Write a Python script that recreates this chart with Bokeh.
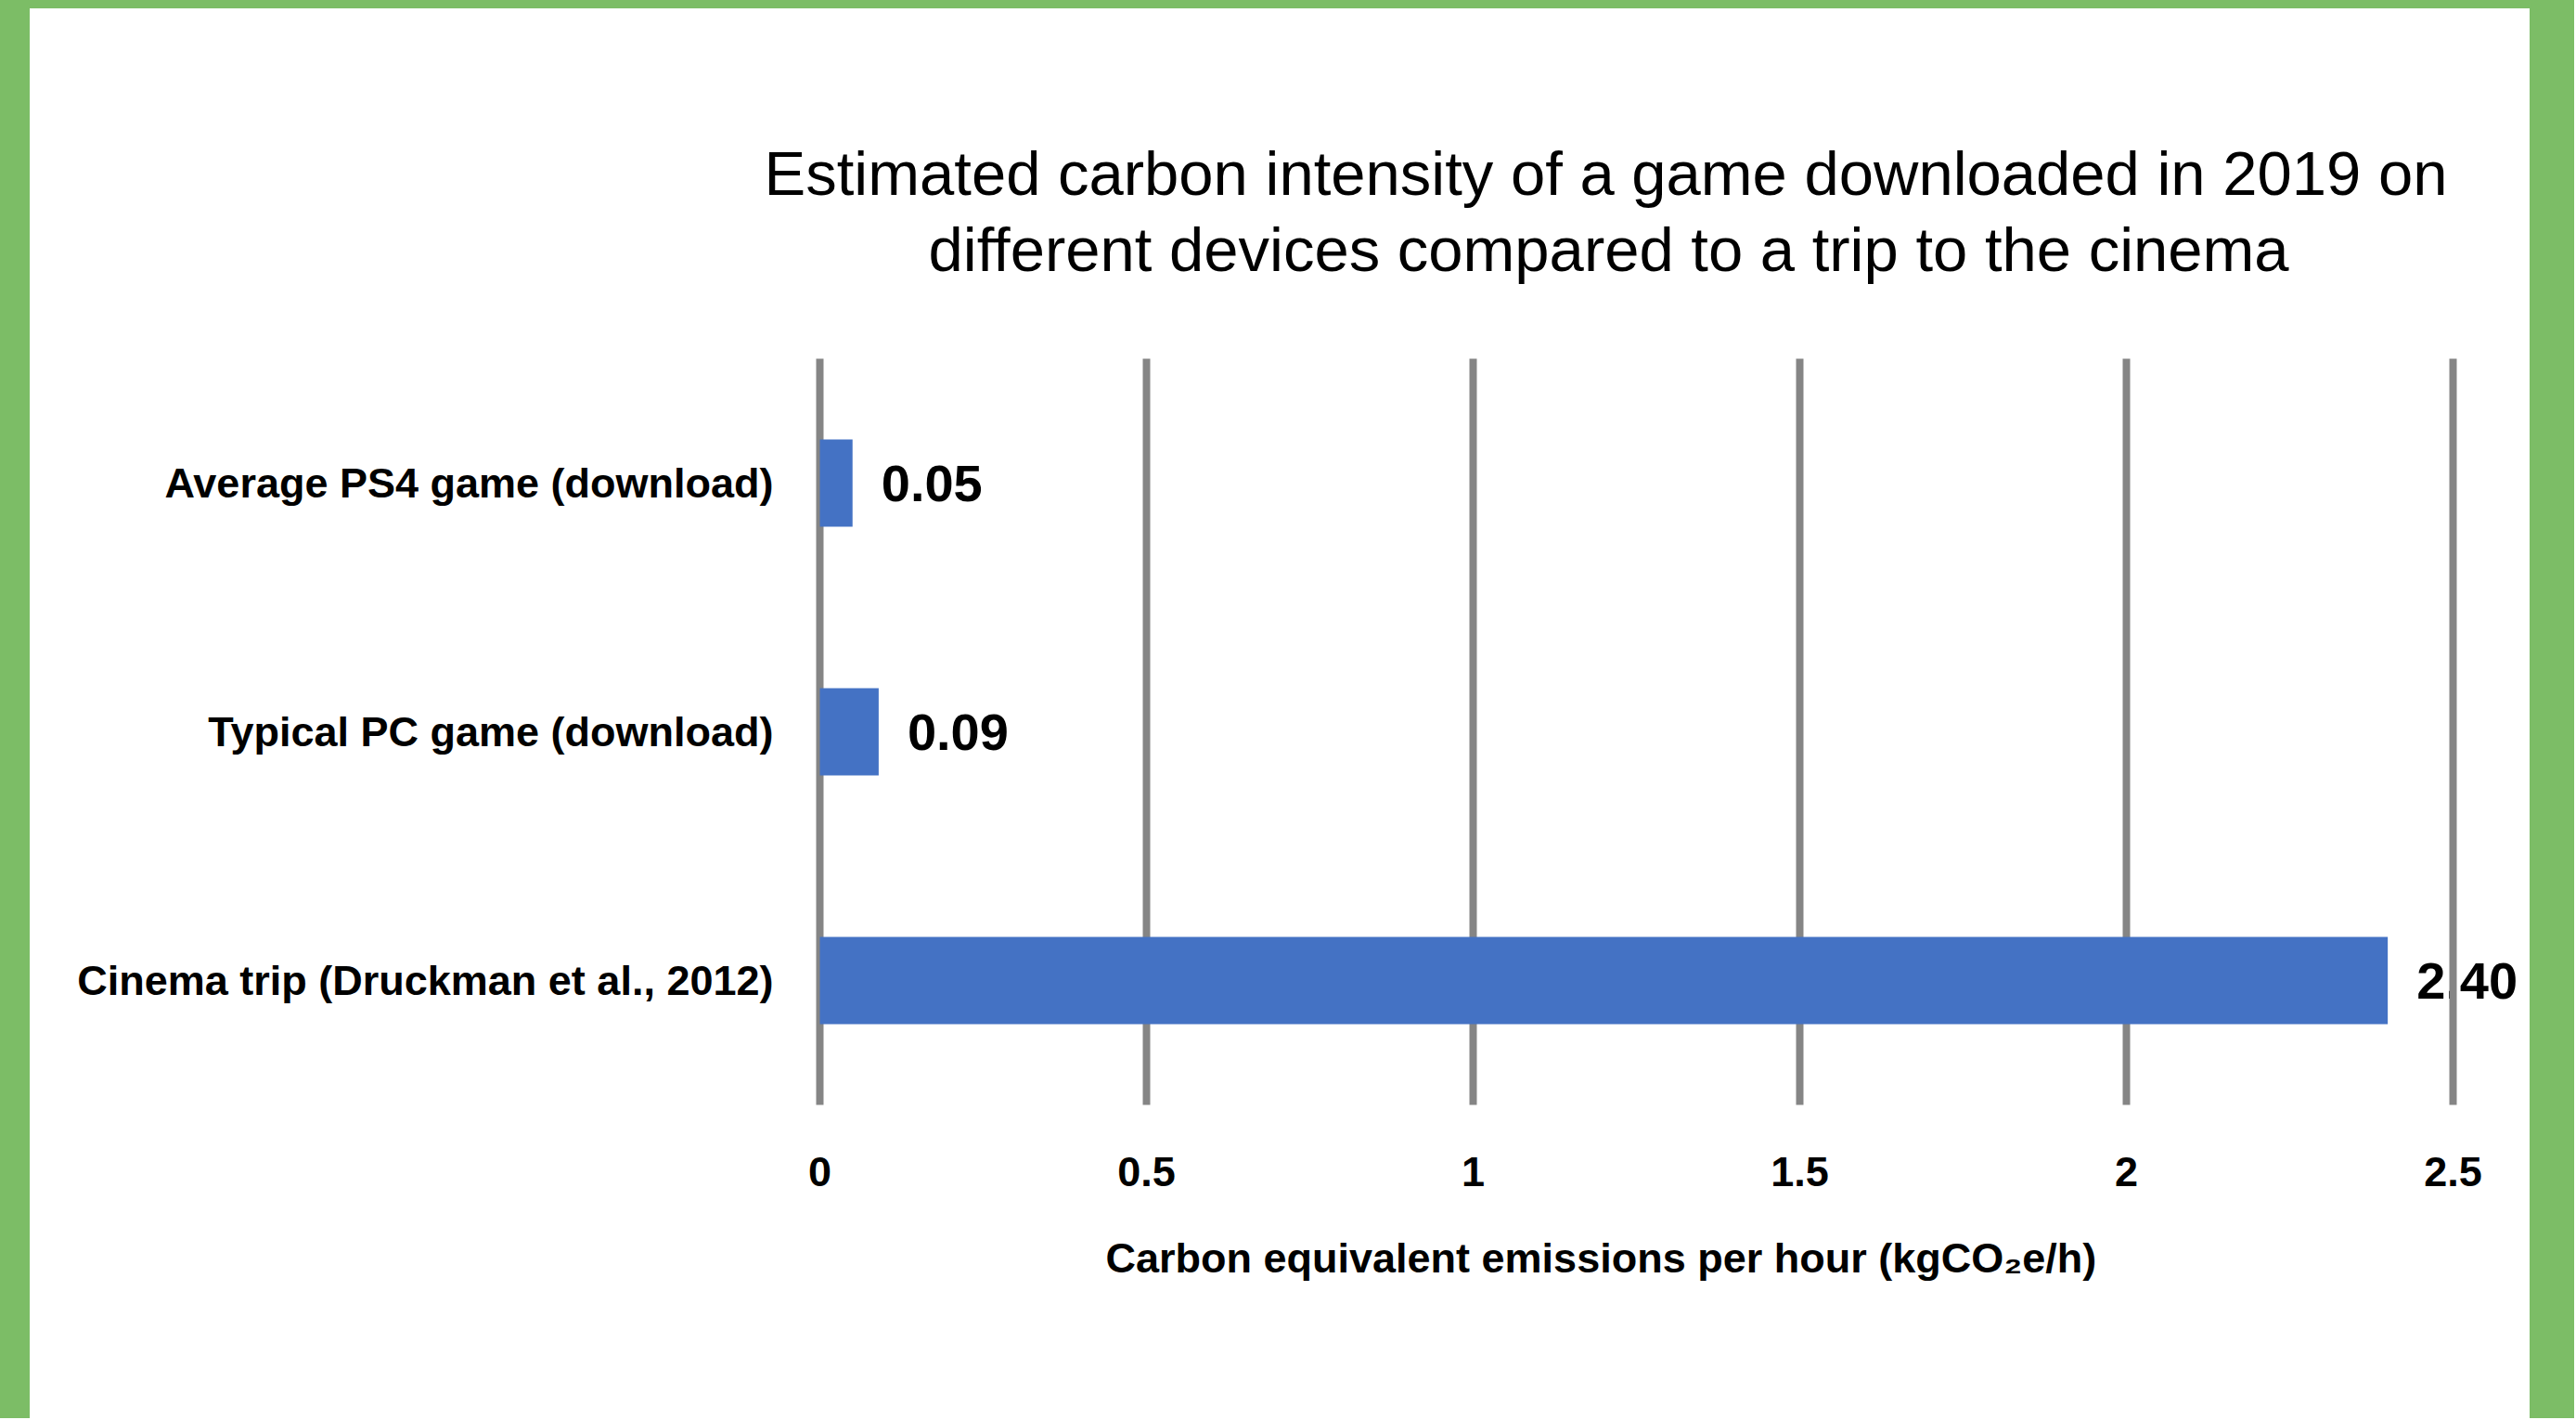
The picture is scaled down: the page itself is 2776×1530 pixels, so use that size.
from bokeh.plotting import figure
from bokeh.models import (FactorRange, Range1d, FixedTicker, ColumnDataSource,
                          Label, Title)
from bokeh.layouts import column
from bokeh.embed import file_html
from bokeh.resources import INLINE

# ---- data ----
categories = ["Average PS4 game (download)",
              "Typical PC game (download)",
              "Cinema trip (Druckman et al., 2012)"]
values = [0.05, 0.09, 2.40]
value_labels = ["0.05", "0.09", "2.40"]
x_ticks = [0, 0.5, 1, 1.5, 2, 2.5]
x_tick_labels = ["0", "0.5", "1", "1.5", "2", "2.5"]
title_lines = ["Estimated carbon intensity of a game downloaded in 2019 on",
               "different devices compared to a trip to the cinema"]
x_label = "Carbon equivalent emissions per hour (kgCO\u2082e/h)"

FONT = "Liberation Sans"
GREEN = "#7cbd66"
BAR = "#4472c4"
GRID = "#858585"

factors = categories[::-1]          # bottom-to-top order for the factor range
src = ColumnDataSource(dict(cat=categories, val=values, lab=value_labels))

p = figure(y_range=FactorRange(factors=factors, range_padding=0),
           x_range=Range1d(-0.01, 2.615),
           frame_width=1848, frame_height=804,
           min_border_left=844, min_border_right=2,
           min_border_top=377, min_border_bottom=338,
           output_backend="svg", toolbar_location=None,
           background_fill_color="white", border_fill_color="white")
p.styles = {"background-color": "white"}
p.outline_line_color = None

p.hbar(y="cat", right="val", left=0, height=0.35, source=src,
       fill_color=BAR, line_color=None)

# value labels (drawn beneath the grid lines, as in the original);
# y is the factor's position on the categorical scale (centre = index + 0.5)
for c, v, t in zip(categories, values, value_labels):
    p.add_layout(Label(x=v, y=factors.index(c) + 0.5, text=t, x_offset=31,
                       text_align="left", text_baseline="middle",
                       text_font=FONT, text_font_style="bold",
                       text_font_size="56px", text_color="black",
                       level="image"))

# grid
p.ygrid.visible = False
p.xgrid.ticker = FixedTicker(ticks=x_ticks)
p.xgrid.grid_line_color = GRID
p.xgrid.grid_line_width = 8
p.xgrid.grid_line_cap = "round"

# x axis
xa = p.xaxis[0]
xa.ticker = FixedTicker(ticks=x_ticks)
xa.major_label_overrides = {t: l for t, l in zip(x_ticks, x_tick_labels)}
xa.axis_line_color = None
xa.major_tick_line_color = None
xa.minor_tick_line_color = None
xa.major_label_standoff = 50
xa.major_label_text_font = FONT
xa.major_label_text_font_style = "bold"
xa.major_label_text_font_size = "45px"
xa.major_label_text_color = "black"

# x axis title, placed under the tick labels
p.add_layout(Title(text=x_label, align="left", offset=315, standoff=94,
                   text_font=FONT, text_font_style="bold",
                   text_font_size="45px", text_color="black"), "below")

# y axis
ya = p.yaxis[0]
ya.axis_line_color = None
ya.major_tick_line_color = None
ya.minor_tick_line_color = None
ya.major_label_standoff = 37
ya.major_label_text_font = FONT
ya.major_label_text_font_style = "bold"
ya.major_label_text_font_size = "45px"
ya.major_label_text_color = "black"

# title: two centred lines
p.add_layout(Title(text=title_lines[1], align="left", offset=124, standoff=162,
                   text_font=FONT, text_font_style="normal",
                   text_font_size="67px", text_color="black"), "above")
p.title.text = title_lines[0]
p.title.align = "left"
p.title.offset = -53
p.title.standoff = -152
p.title.text_font = FONT
p.title.text_font_style = "normal"
p.title.text_font_size = "67px"
p.title.text_color = "black"

root = column(p, styles={"background-color": GREEN,
                         "padding": "17px 48px 0px 40px",
                         "margin": "-8px"})

open("out.html", "w").write(file_html(root, INLINE))
